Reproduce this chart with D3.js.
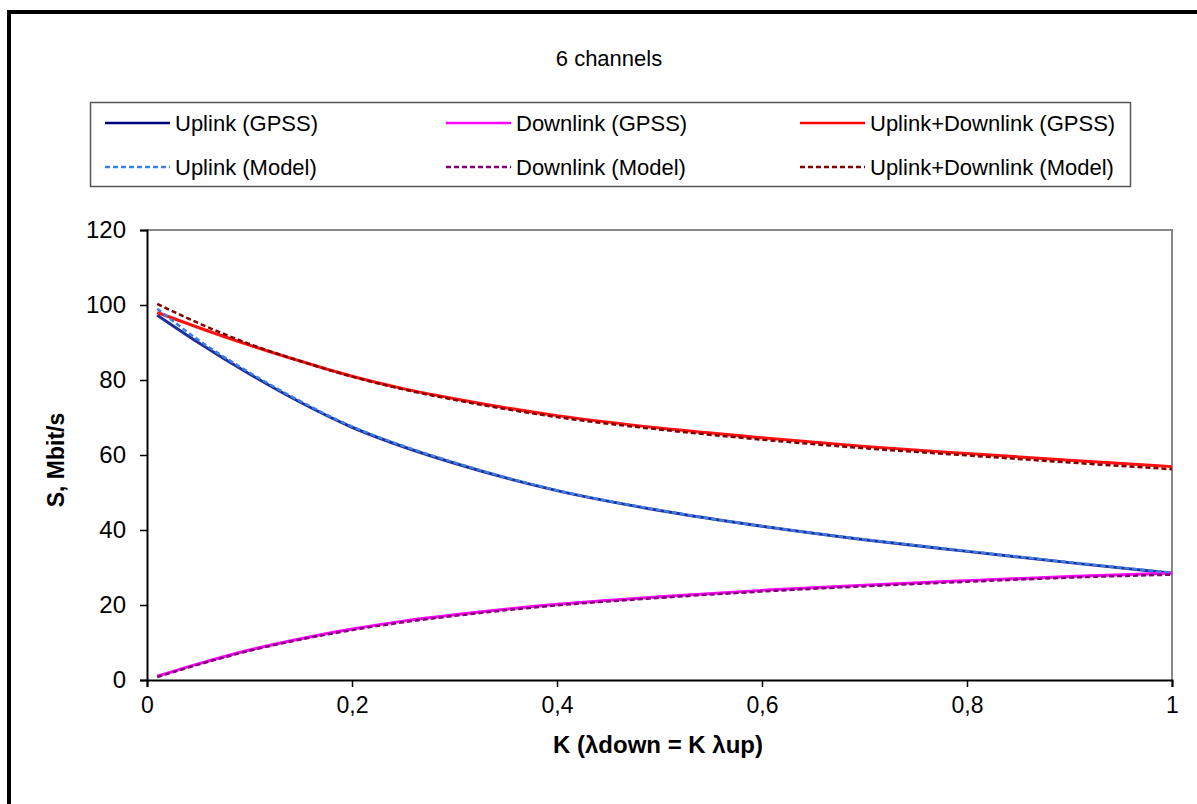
<!DOCTYPE html>
<html>
<head>
<meta charset="utf-8">
<script src="https://cdn.jsdelivr.net/npm/d3@7"></script>
<style>
  body { margin: 0; background: #fff; }
  svg { font-family: "Liberation Sans", Arial, sans-serif; }
</style>
</head>
<body>
<svg width="1197" height="804"></svg>
<script>
// K values along the x axis
const kValues = [0.01, 0.05, 0.1, 0.15, 0.2, 0.25, 0.3, 0.4, 0.5, 0.6, 0.7, 0.8, 0.9, 1.0];

// series (S, Mbit/s)
const uplinkGpss   = [97.3, 90.0, 81.6, 74.0, 67.4, 62.2, 57.8, 50.5, 45.2, 41.0, 37.4, 34.3, 31.3, 28.5];
const uplinkModel  = [99.0, 90.7, 82.0, 74.3, 67.6, 62.4, 58.0, 50.6, 45.3, 41.0, 37.5, 34.4, 31.4, 28.6];
const downGpss     = [1.0, 4.3, 8.0, 11.0, 13.6, 15.7, 17.4, 20.2, 22.2, 23.9, 25.3, 26.5, 27.6, 28.5];
const downModel    = [0.8, 4.1, 7.8, 10.8, 13.3, 15.4, 17.1, 19.9, 21.9, 23.6, 25.0, 26.2, 27.3, 28.1];
const sumGpss      = [98.0, 94.0, 89.3, 85.0, 81.0, 77.7, 75.0, 70.5, 67.2, 64.6, 62.3, 60.4, 58.6, 56.9];
const sumModel     = [100.3, 95.2, 89.6, 85.0, 80.9, 77.5, 74.7, 70.1, 66.8, 64.1, 61.8, 59.9, 58.0, 56.2];

const xTicks = [0, 0.2, 0.4, 0.6, 0.8, 1];
const yTicks = [0, 20, 40, 60, 80, 100, 120];

const series = [
  {name: "Uplink (GPSS)", values: uplinkGpss, color: "#1f2f9a", dash: null},
  {name: "Downlink (GPSS)", values: downGpss, color: "#ff00ff", dash: null},
  {name: "Uplink+Downlink (GPSS)", values: sumGpss, color: "#ff1010", dash: null},
  {name: "Uplink (Model)", values: uplinkModel, color: "#3d7fe8", dash: "5,3"},
  {name: "Downlink (Model)", values: downModel, color: "#800070", dash: "5,3"},
  {name: "Uplink+Downlink (Model)", values: sumModel, color: "#800000", dash: "5,3"}
];
const legendColors = ["#000080", "#ff00ff", "#ff0000", "#3d7fe8", "#800070", "#800000"];

const svg = d3.select("svg");

// outer frame
svg.append("path").attr("d", "M9,806 L9,12 L1199,12")
   .attr("fill", "none").attr("stroke", "#000").attr("stroke-width", 4);

const pLeft = 147, pRight = 1172, pTop = 230, pBottom = 680;
const x = d3.scaleLinear().domain([0, 1]).range([pLeft, pRight]);
const y = d3.scaleLinear().domain([0, 120]).range([pBottom, pTop]);

// title
svg.append("text").attr("x", 609).attr("y", 66).attr("text-anchor", "middle")
   .attr("font-size", "22px").text("6 channels");

// legend
const lg = svg.append("g");
lg.append("rect").attr("x", 90.5).attr("y", 102.5).attr("width", 1040).attr("height", 84)
  .attr("fill", "#fff").attr("stroke", "#555").attr("stroke-width", 1.5);
const colX = [105, 446, 800];
series.forEach((s, i) => {
  const cx = colX[i % 3], cy = i < 3 ? 123 : 167;
  lg.append("line").attr("x1", cx).attr("x2", cx + 65).attr("y1", cy).attr("y2", cy)
    .attr("stroke", legendColors[i]).attr("stroke-width", 2.5)
    .attr("stroke-dasharray", s.dash ? "5,3" : null);
  lg.append("text").attr("x", cx + 70).attr("y", cy + 8).attr("font-size", "22px").text(s.name);
});

// plot frame (top/right gray)
svg.append("path").attr("d", `M${pLeft},${pTop} L${pRight},${pTop} L${pRight},${pBottom}`)
   .attr("fill", "none").attr("stroke", "#888").attr("stroke-width", 2);

// axes
const xAxis = svg.append("g").attr("transform", `translate(0,${pBottom})`)
   .call(d3.axisBottom(x).tickValues(xTicks).tickSize(7).tickPadding(10)
     .tickFormat(d => d3.format("")(d).replace(".", ",")));
const yAxis = svg.append("g").attr("transform", `translate(${pLeft},0)`)
   .call(d3.axisLeft(y).tickValues(yTicks).tickSize(7).tickPadding(18));
[xAxis, yAxis].forEach(a => {
  a.select(".domain").attr("stroke", "#000").attr("stroke-width", 2);
  a.selectAll(".tick line").attr("stroke", "#000").attr("stroke-width", 1.5);
  a.selectAll(".tick text").attr("fill", "#000")
   .attr("font-family", "'Liberation Sans', Arial, sans-serif");
});
xAxis.selectAll(".tick text").attr("font-size", "23px");
yAxis.selectAll(".tick text").attr("font-size", "24px").attr("dx", "4");

// axis titles
svg.append("text").attr("x", 658).attr("y", 753).attr("text-anchor", "middle")
   .attr("font-size", "24px").attr("font-weight", "bold").text("K (λdown = K λup)");
svg.append("text").attr("transform", "translate(64,460) rotate(-90)").attr("text-anchor", "middle")
   .attr("font-size", "23px").attr("font-weight", "bold").text("S, Mbit/s");

// lines
const line = d3.line().x((d, i) => x(kValues[i])).y(d => y(d)).curve(d3.curveMonotoneX);
svg.append("g").selectAll("path").data(series).join("path")
   .attr("d", d => line(d.values))
   .attr("fill", "none")
   .attr("stroke", d => d.color)
   .attr("stroke-width", d => d.dash ? 2.5 : 3)
   .attr("stroke-dasharray", d => d.dash);
</script>
</body>
</html>
